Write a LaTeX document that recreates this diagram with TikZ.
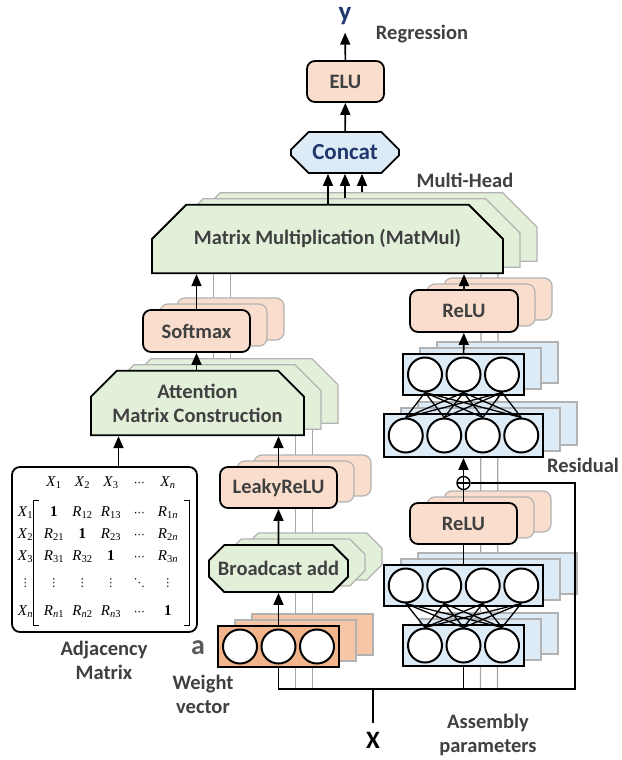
\documentclass[tikz,border=0pt]{standalone}
\usepackage{fontspec}
\setmainfont{Carlito}
\newfontfamily\tms{Liberation Serif}
\newfontfamily\dvfont{DejaVu Sans}
\usetikzlibrary{arrows.meta,shapes.misc,shadows,backgrounds,matrix,calc}

\definecolor{peach}{RGB}{250,222,205}
\definecolor{wtan}{RGB}{242,180,138}
\definecolor{mint}{RGB}{226,240,217}
\definecolor{sky}{RGB}{221,235,247}
\definecolor{headblue}{RGB}{32,56,110}
\definecolor{txt}{RGB}{64,64,64}

\newcommand{\Xs}[1]{\textit{X}\textsubscript{#1}}
\newcommand{\Rs}[1]{\textit{R}\textsubscript{#1}}
\newcommand{\mdot}[1]{{\dvfont\fontsize{11}{11}\selectfont #1}}

\tikzset{
  dims/.style 2 args={minimum width=#1, minimum height=#2},
  rbox/.style={draw, line width=1.8pt, rounded corners=8pt, inner sep=0pt},
  cbox/.style={chamfered rectangle, draw, line width=1.8pt, inner sep=0pt},
  layer/.style={draw, line width=1.8pt, inner sep=0pt},
  ghosts/.style={
    copy shadow={shadow xshift=34pt, shadow yshift=12pt, fill=#1, draw=black!30, line width=1.2pt},
    copy shadow={shadow xshift=17pt, shadow yshift=6pt, fill=#1, draw=black!30, line width=1.2pt}},
  heads/.style={fill=#1, ghosts=#1},
  neuron/.style={circle, draw, line width=2pt, fill=white, minimum size=34pt, inner sep=0pt},
  link/.style={line width=1.6pt},
  flow/.style={link, -{Triangle[length=12pt,width=10pt]}},
  wire/.style={line width=1.3pt},
  ghost/.style={draw=black!35, line width=1.2pt},
}

\begin{document}
\begin{tikzpicture}[x=1pt, y=-1pt,
    every node/.style={font=\bfseries\fontsize{20.5}{24}\selectfont, text=txt}]
  \useasboundingbox (0,0) rectangle (621,760);

  % output part
  \node[font=\bfseries\fontsize{27}{27}\selectfont, text=headblue, inner sep=0pt, outer sep=8pt] (yout) at (345,16) {y};
  \node (regr) at (422,34) {Regression};
  \node[rbox, fill=peach, dims={77pt}{41pt}] (elu) at (345.5,81.5) {ELU};
  \node[cbox, fill=sky, dims={108pt}{41pt}, chamfered rectangle sep=10pt,
        font=\bfseries\fontsize{23}{23}\selectfont, text=headblue] (concat) at (345,152.5) {Concat};
  \node (mhead) at (465,180) {Multi-Head};

  % attention part
  \node[cbox, heads=mint, dims={351pt}{52pt}, chamfered rectangle corners={north west,north east},
        chamfered rectangle sep=25pt] (matmul) at (327.5,239) {Matrix Multiplication (MatMul)};
  \node[rbox, heads=peach, dims={107pt}{42pt}] (soft) at (196.5,331) {Softmax};
  \node[cbox, heads=mint, dims={213pt}{52pt}, chamfered rectangle corners={north west,north east},
        chamfered rectangle sep=13pt, align=center] (attn) at (197.5,403) {Attention\\Matrix Construction};
  \node[rbox, heads=peach, dims={117pt}{41pt}] (leaky) at (278.5,487.5) {LeakyReLU};
  \node[cbox, heads=mint, dims={139pt}{47pt}, chamfered rectangle sep=8pt] (badd) at (278.5,568.5) {Broadcast add};
  \node[layer, fill=wtan, ghosts=wtan!75, dims={121pt}{41pt}] (wvec) at (278.5,646.5) {};
  \foreach \x [count=\i] in {240,278.5,317}
    \node[neuron] (w\i) at (\x,646.5) {};
  \node[font=\bfseries\fontsize{28}{28}\selectfont, text=black!65] (avec) at (198,648) {a};
  \node[align=center] (wlbl) at (203,694) {Weight\\vector};

  % adjacency matrix
  \node[rbox, fill=white, dims={185pt}{165pt}] (adj) at (104.5,549.5) {};
  \matrix (adjm) [matrix of nodes, anchor=north west, inner sep=0pt,
      nodes={font=\tms\fontsize{15}{15}\selectfont, text=black, minimum width=28.5pt,
             text height=10pt, text depth=3pt, minimum height=22pt, inner sep=0pt}] at (11,472) {
          & \Xs{1} & \Xs{2} & \Xs{3} & \mdot{⋯} & \Xs{\textit{n}} \\[8pt]
    \Xs{1} & \textbf{1} & \Rs{12} & \Rs{13} & \mdot{⋯} & \Rs{1\textit{n}} \\
    \Xs{2} & \Rs{21} & \textbf{1} & \Rs{23} & \mdot{⋯} & \Rs{2\textit{n}} \\
    \Xs{3} & \Rs{31} & \Rs{32} & \textbf{1} & \mdot{⋯} & \Rs{3\textit{n}} \\[4pt]
    \mdot{⋮} & \mdot{⋮} & \mdot{⋮} & \mdot{⋮} & \mdot{⋱} & \mdot{⋮} \\[7pt]
    \Xs{\textit{n}} & \Rs{\textit{n}1} & \Rs{\textit{n}2} & \Rs{\textit{n}3} & \mdot{⋯} & \textbf{1} \\
  };
  \draw[line width=0.9pt] ($(adjm-2-2.north west)+(-1,-2)$) -- ++(-5,0)
    -- ($(adjm-6-2.south west)+(-6,2)$) -- ++(5,0);
  \draw[line width=0.9pt] ($(adjm-2-6.north east)+(2,-2)$) -- ++(5,0)
    -- ($(adjm-6-6.south east)+(7,2)$) -- ++(-5,0);
  \node[align=center] (adjlbl) at (104,660) {Adjacency\\Matrix};

  % feed-forward part
  \node[rbox, heads=peach, dims={108pt}{42pt}] (relu1) at (464,311) {ReLU};
  \node[layer, heads=sky, dims={121pt}{41pt}] (net3a) at (463.5,374.5) {};
  \node[layer, heads=sky, dims={159pt}{43pt}] (net4a) at (463.5,435.5) {};
  \node[circle, draw, line width=1.4pt, fill=white, minimum size=13pt, inner sep=0pt,
        path picture={\draw[line width=1.2pt] (path picture bounding box.north) -- (path picture bounding box.south)
                       (path picture bounding box.west) -- (path picture bounding box.east);}] (plus) at (463.5,483) {};
  \node (resid) at (583,465) {Residual};
  \node[rbox, heads=peach, dims={107pt}{41pt}] (relu2) at (463.5,523.5) {ReLU};
  \node[layer, heads=sky, dims={159pt}{41pt}] (net4b) at (463.5,585.5) {};
  \node[layer, heads=sky, dims={121pt}{41pt}] (net3b) at (463.5,645.5) {};
  \foreach \x [count=\i] in {425,463.5,502} {
    \node[neuron] (a\i) at (\x,374.5) {};
    \node[neuron] (d\i) at (\x,645.5) {};
  }
  \foreach \x [count=\i] in {405.75,444.25,482.75,521.25} {
    \node[neuron] (b\i) at (\x,435.5) {};
    \node[neuron] (c\i) at (\x,585.5) {};
  }
  \foreach \i in {1,2,3}
    \foreach \j in {1,...,4} {
      \draw[wire] (a\i.south) -- (b\j.north);
      \draw[wire] (c\j.south) -- (d\i.north);
    }

  % input
  \node[font=\bfseries\fontsize{25}{25}\selectfont, text=black, inner sep=0pt, outer sep=9pt] (xin) at (373,740) {X};
  \node[align=center] (asm) at (488,735) {Assembly\\parameters};
  \coordinate (busr) at (575,689);

  % connectors
  \draw[flow] (concat) -- (elu);
  \draw[flow] (elu) -- (yout);
  \foreach \k in {0,1,2}
    \draw[flow] ($(matmul.north -| concat.south)+(17*\k-17,-6*\k)$) -- ($(concat.south)+(17*\k-17,0)$);
  \draw[flow] (soft) -- (soft |- matmul.south);
  \draw[flow] (soft |- attn.north) -- (soft);
  \coordinate (adjout) at ($(adj.north)+(14,0)$);
  \draw[flow] (adjout) -- (adjout |- attn.south);
  \draw[flow] (leaky) -- (leaky |- attn.south);
  \draw[flow] (badd) -- (leaky);
  \draw[flow] (wvec) -- (badd);
  \draw[flow] (relu1) -- (relu1 |- matmul.south);
  \draw[flow] (net3a) -- (relu1);
  \draw[flow] (plus) -- (net4a);
  \draw[link] (relu2) -- (plus);
  \draw[link] (net4b) -- (relu2);
  \draw[link] (wvec.south) |- (busr) |- (plus);
  \draw[link] (net3b) -- (net3b |- busr);
  \draw[link] (xin) -- (xin |- busr);

  % connectors of the other heads
  \begin{scope}[on background layer]
    \foreach \k in {1,2} {
      \draw[ghost] ($(soft |- attn.north)+(17*\k,-6*\k)$) -- ($(soft |- matmul.south)+(17*\k,-6*\k)$);
      \draw[ghost] ($(wvec.south |- busr)+(17*\k,0)$) -- ($(leaky |- attn.south)+(17*\k,-6*\k)$);
      \draw[ghost] ($(net3b.south |- busr)+(17*\k,0)$) -- ($(relu1 |- matmul.south)+(17*\k,-6*\k)$);
    }
  \end{scope}
\end{tikzpicture}
\end{document}
